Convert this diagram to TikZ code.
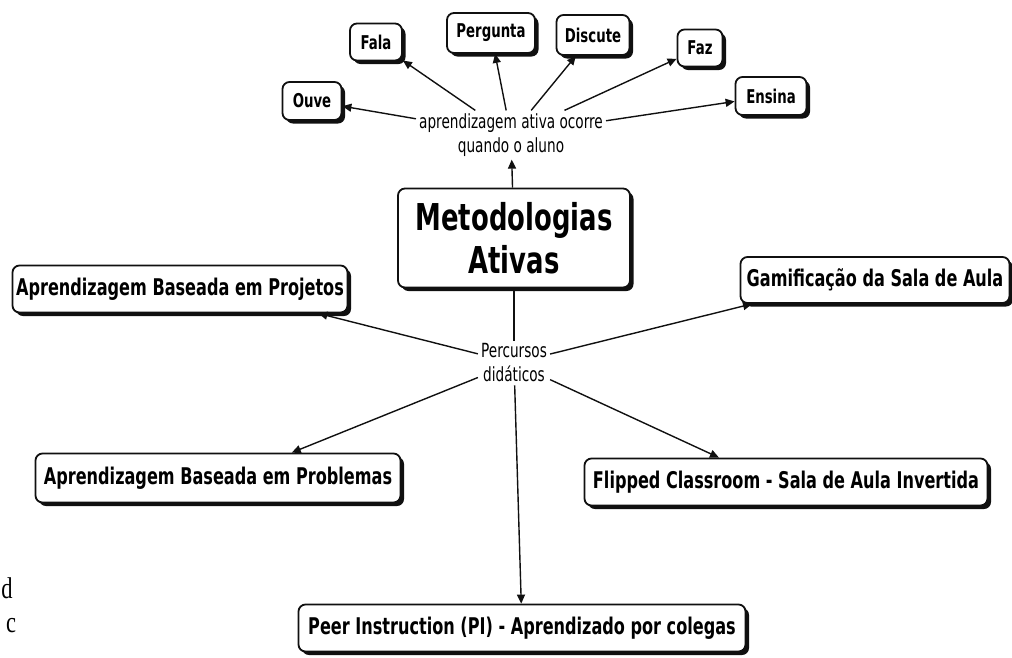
\documentclass[tikz,border=0pt]{standalone}
\usepackage{fontspec}
\usepackage{tikz}
\usetikzlibrary{arrows.meta,shadows}
\newfontfamily\mapfont[FakeStretch=0.7]{DejaVu Sans}
\newfontfamily\strayfont[FakeStretch=0.75]{Liberation Serif}
\definecolor{mapink}{HTML}{101010}

\begin{document}
\begin{tikzpicture}[x=1pt,y=-1pt,
  concept/.style={draw=mapink, line width=1.8pt, rounded corners=7pt,
    fill=white, align=center, inner sep=2pt,
    font=\mapfont\bfseries\fontsize{19}{21}\selectfont,
    drop shadow={shadow xshift=3.5pt,shadow yshift=-3.5pt,fill=mapink,opacity=1}},
  leaf/.style={concept},
  route/.style={concept, minimum height=47pt,
    font=\mapfont\bfseries\fontsize{23}{25}\selectfont},
  hub/.style={concept, minimum width=232pt, minimum height=99pt,
    font=\mapfont\bfseries\fontsize{37}{43}\selectfont},
  phrase/.style={align=center, inner sep=3pt,
    font=\mapfont\fontsize{19.5}{24}\selectfont},
  arrow/.style={-{Triangle[length=9pt,width=8pt]}, line width=1.4pt, draw=mapink},
  plain/.style={line width=1.4pt, draw=mapink},
  stray/.style={font=\strayfont\fontsize{30}{30}\selectfont, inner sep=0pt}
]
\useasboundingbox (0,0) rectangle (1012,657);

% main concept and linking phrases
\node[hub] (meto) at (514,238) {Metodologias\\Ativas};
\node[phrase] (lbl) at (511,135) {aprendizagem ativa ocorre\\quando o aluno};
\node[phrase] (perc) at (514,363) {Percursos\\didáticos};

% what the student does
\node[leaf, minimum width=59pt, minimum height=38pt] (ouve) at (312,101) {Ouve};
\node[leaf, minimum width=52pt, minimum height=37pt] (fala) at (376,42) {Fala};
\node[leaf, minimum width=88pt, minimum height=40pt] (perg) at (491,33) {Pergunta};
\node[leaf, minimum width=73pt, minimum height=40pt] (disc) at (593,35) {Discute};
\node[leaf, minimum width=45pt, minimum height=37pt] (faz) at (700,48) {Faz};
\node[leaf, minimum width=71pt, minimum height=38pt] (ensina) at (771,96) {Ensina};

% didactic routes
\node[route, minimum width=335pt] (proj) at (180,289) {Aprendizagem Baseada em Projetos};
\node[route, minimum width=269pt, minimum height=46pt] (gami) at (875,280) {Gamificação da Sala de Aula};
\node[route, minimum width=365pt, minimum height=49pt] (prob) at (218,478) {Aprendizagem Baseada em Problemas};
\node[route, minimum width=403pt] (flip) at (786,482) {Flipped Classroom - Sala de Aula Invertida};
\node[route, minimum width=447pt] (peer) at (522,628) {Peer Instruction (PI) - Aprendizado por colegas};

% stray letters at the left edge
\node[stray] (strayd) at (7,588) {d};
\node[stray] (strayc) at (11,626) {c};

\draw[arrow] (meto) -- (lbl);
\draw[arrow] (lbl) -- (ouve);
\draw[arrow] (lbl) -- (fala);
\draw[arrow] (lbl) -- (perg);
\draw[arrow] (lbl) -- (disc);
\draw[arrow] (lbl) -- (faz);
\draw[arrow] (lbl) -- (ensina);

\draw[plain] (meto) -- (perc);
\draw[arrow] (perc) -- (proj.-10);
\draw[arrow] (perc) -- (gami.-169);
\draw[arrow] (perc) -- (prob.19);
\draw[arrow] (perc) -- (flip.160);
\draw[arrow] (perc) -- (peer);
\end{tikzpicture}
\end{document}
